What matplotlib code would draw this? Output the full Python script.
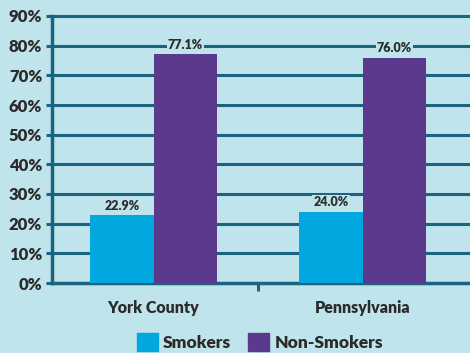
import matplotlib
matplotlib.use("Agg")
import matplotlib.pyplot as plt
import numpy as np
from matplotlib.patches import Patch

categories = ["York County", "Pennsylvania"]
series_names = ["Smokers", "Non-Smokers"]
smokers = [22.9, 24.0]
non_smokers = [77.1, 76.0]
yticks = [0, 10, 20, 30, 40, 50, 60, 70, 80, 90]

bg = "#c0e4ec"
grid_c = "#1b6480"
c_smk = "#00a8df"
c_non = "#5b3a8d"
txt = "#2b2b2b"
W = "heavy"

plt.rcParams['font.family'] = ['Lato', 'DejaVu Sans']

fig = plt.figure(figsize=(4.7, 3.53), dpi=100)
fig.patch.set_facecolor(bg)
ax = fig.add_axes([52/470, 1-283/353, 1-52/470, (283-16)/353])
ax.set_facecolor(bg)

x = np.arange(len(categories))
w = 0.305
ax.set_xlim(-0.486, 1.514)
ax.set_ylim(0, 90)

for yv in yticks:
    ax.axhline(yv, color=grid_c, lw=2.2, zorder=1, clip_on=False)

ax.bar(x - w/2, smokers, w, color=c_smk, zorder=3)
ax.bar(x + w/2, non_smokers, w, color=c_non, zorder=3)

for xi, v in zip(x - w/2, smokers):
    ax.text(xi, v + 1.2, f"{v:.1f}%", ha="center", va="bottom", fontsize=9,
            fontweight=W, color=txt, zorder=4,
            bbox=dict(facecolor=bg, edgecolor="none", pad=1.0))
for xi, v in zip(x + w/2, non_smokers):
    ax.text(xi, v + 1.2, f"{v:.1f}%", ha="center", va="bottom", fontsize=9,
            fontweight=W, color=txt, zorder=4,
            bbox=dict(facecolor=bg, edgecolor="none", pad=1.0))

ax.set_yticks(yticks)
ax.set_yticklabels([f"{t}%" for t in yticks], fontsize=12, fontweight=W, color=txt)
ax.tick_params(axis="y", length=4, width=2.2, color=grid_c, pad=3)

ax.set_xticks([0.5])
ax.set_xticklabels([""])
ax.tick_params(axis="x", length=6, width=2.2, color=grid_c)
for xi, c in zip(x, categories):
    ax.text(xi, -5.8, c, ha="center", va="top", fontsize=11.5, fontweight=W,
            color=txt, transform=ax.transData)

for s in ["top", "right"]:
    ax.spines[s].set_visible(False)
ax.spines["left"].set_color(grid_c)
ax.spines["left"].set_linewidth(2.5)
ax.spines["bottom"].set_color(grid_c)
ax.spines["bottom"].set_linewidth(2.5)

handles = [Patch(color=c_smk), Patch(color=c_non)]
fig.legend(handles, series_names, loc="center", bbox_to_anchor=(260/470, 1-342/353),
           ncol=2, frameon=False, prop=dict(weight=W, size=12.5),
           handlelength=1.2, handleheight=1.2, handletextpad=0.3, columnspacing=1.0,
           borderaxespad=0, borderpad=0)
for t in fig.legends[0].get_texts():
    t.set_color(txt)

fig.savefig("out.png", dpi=100, facecolor=bg)
